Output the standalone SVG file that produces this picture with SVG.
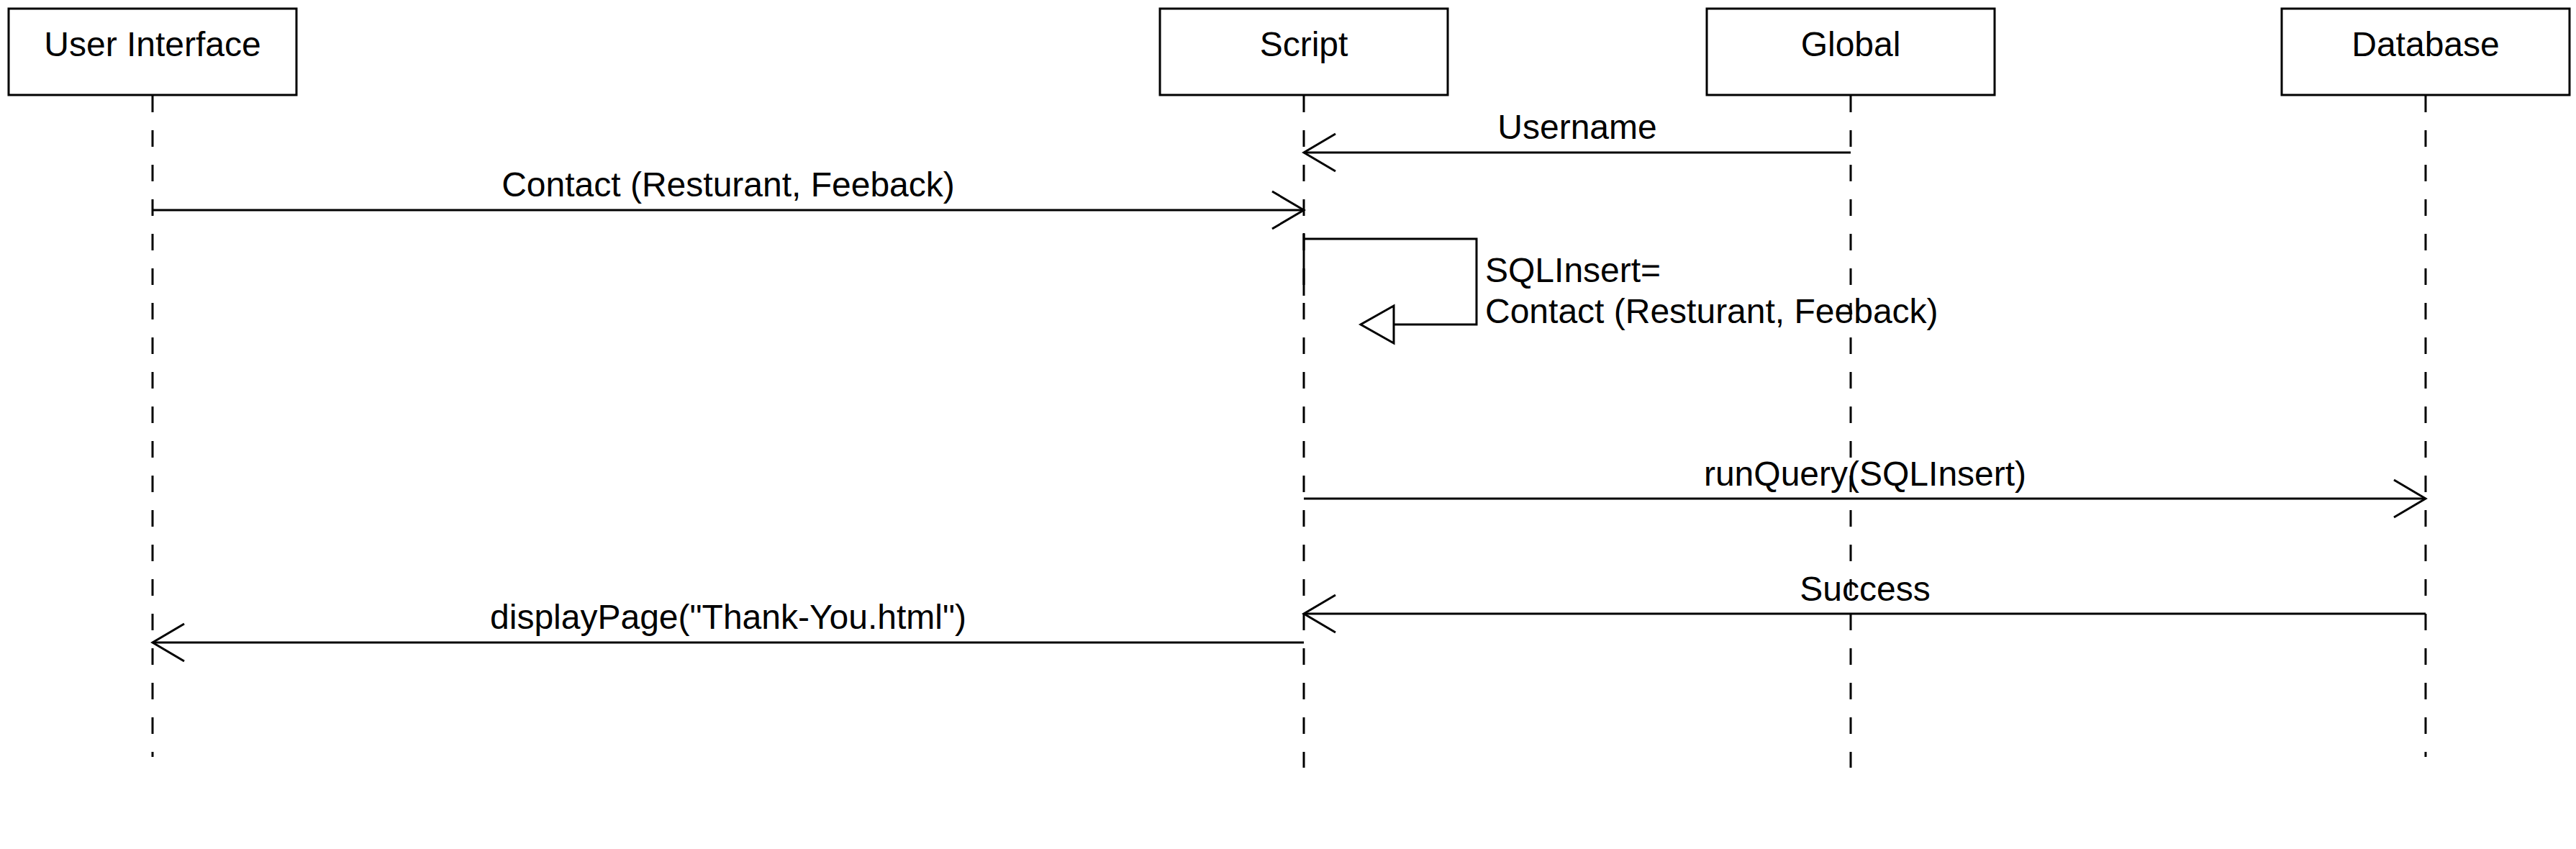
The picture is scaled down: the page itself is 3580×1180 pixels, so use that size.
<svg xmlns="http://www.w3.org/2000/svg" width="3580" height="1180" viewBox="0 0 3580 1180">
  <style>
    .box { fill: #ffffff; stroke: #000000; stroke-width: 3; }
    .life { stroke: #000000; stroke-width: 3; stroke-dasharray: 23 25; fill: none; }
    .msg { stroke: #000000; stroke-width: 3; fill: none; }
    .lbl { font-family: "Liberation Sans", Arial, sans-serif; font-size: 48px; fill: #000000; }
    .mid { text-anchor: middle; }
  </style>
  <defs>
    <marker id="open" markerUnits="userSpaceOnUse" viewBox="-50 -32 56 64" markerWidth="56" markerHeight="64" refX="0" refY="0" orient="auto" overflow="visible">
      <path d="M-44,-26 L0,0 L-44,26" fill="none" stroke="#000000" stroke-width="3"/>
    </marker>
    <marker id="tri" markerUnits="userSpaceOnUse" viewBox="-52 -32 58 64" markerWidth="58" markerHeight="64" refX="0" refY="0" orient="auto" overflow="visible">
      <path d="M-46,-26 L0,0 L-46,26 Z" fill="#ffffff" stroke="#000000" stroke-width="3"/>
    </marker>
  </defs>
  <rect width="3580" height="1180" fill="#ffffff"/>

  <g id="user-interface">
    <line class="life" x1="212" y1="133" x2="212" y2="1052"/>
    <rect class="box" x="12" y="12" width="400" height="120"/>
    <text class="lbl mid" x="212" y="78">User Interface</text>
  </g>
  <g id="script">
    <line class="life" x1="1812" y1="133" x2="1812" y2="1067"/>
    <rect class="box" x="1612" y="12" width="400" height="120"/>
    <text class="lbl mid" x="1812" y="78">Script</text>
  </g>
  <g id="global">
    <line class="life" x1="2572" y1="133" x2="2572" y2="1067"/>
    <rect class="box" x="2372" y="12" width="400" height="120"/>
    <text class="lbl mid" x="2572" y="78">Global</text>
  </g>
  <g id="database">
    <line class="life" x1="3371" y1="133" x2="3371" y2="1052"/>
    <rect class="box" x="3171" y="12" width="400" height="120"/>
    <text class="lbl mid" x="3371" y="78">Database</text>
  </g>

  <g id="connectors">
    <g id="msg-username">
      <line class="msg" x1="2572" y1="212" x2="1812" y2="212" marker-end="url(#open)"/>
      <text class="lbl mid" x="2192" y="193">Username</text>
    </g>
    <g id="msg-contact">
      <line class="msg" x1="212" y1="292" x2="1812" y2="292" marker-end="url(#open)"/>
      <text class="lbl mid" x="1012" y="273">Contact (Resturant, Feeback)</text>
    </g>
    <g id="msg-sqlinsert">
      <line class="msg" x1="1812" y1="324" x2="1812" y2="411"/>
      <polyline class="msg" points="1812,332 2052,332 2052,451 1891,451" marker-end="url(#tri)"/>
      <text class="lbl" x="2064" y="392">SQLInsert=</text>
      <text class="lbl" x="2064" y="449">Contact (Resturant, Feeback)</text>
    </g>
    <g id="msg-runquery">
      <line class="msg" x1="1812" y1="693" x2="3371" y2="693" marker-end="url(#open)"/>
      <text class="lbl mid" x="2592" y="675">runQuery(SQLInsert)</text>
    </g>
    <g id="msg-success">
      <line class="msg" x1="3371" y1="853" x2="1812" y2="853" marker-end="url(#open)"/>
      <text class="lbl mid" x="2592" y="835">Success</text>
    </g>
    <g id="msg-displaypage">
      <line class="msg" x1="1812" y1="893" x2="212" y2="893" marker-end="url(#open)"/>
      <text class="lbl mid" x="1012" y="874">displayPage("Thank-You.html")</text>
    </g>
  </g>
</svg>
